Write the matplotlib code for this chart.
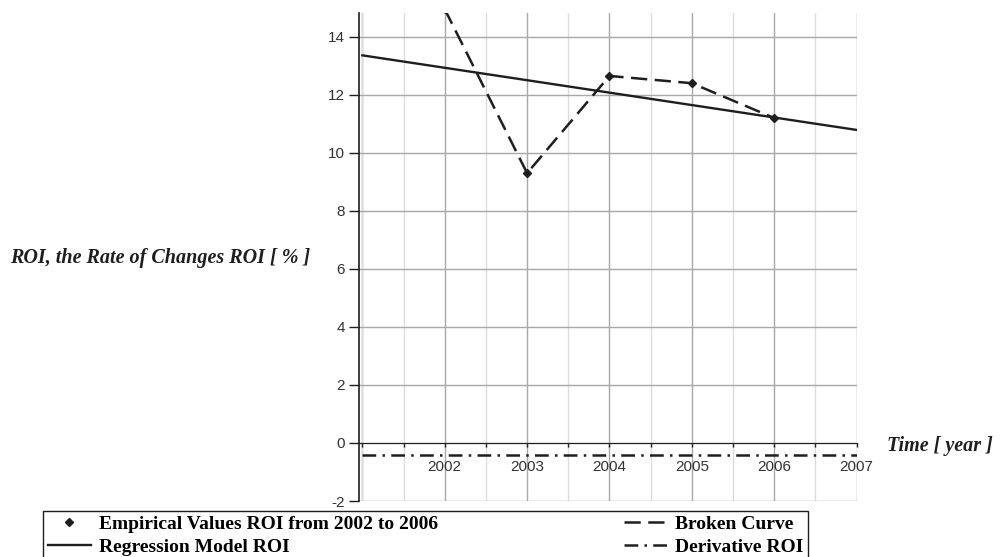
import numpy as np
import matplotlib.pyplot as plt
from matplotlib.ticker import MultipleLocator

# Datos
years = [2002, 2003, 2004, 2005, 2006]
roi = [14.95, 9.3, 12.65, 12.4, 11.2]          # valores empiricos ROI [%]
reg_years = [2001, 2007]
reg_roi = [13.36, 10.79]                        # modelo de regresion
deriv_roi = [-0.43, -0.43]                      # derivada del modelo
xticks = [2002, 2003, 2004, 2005, 2006, 2007]
yticks = [-2, 0, 2, 4, 6, 8, 10, 12, 14]

dark = '#1e1e1e'
serif = 'Liberation Serif'
plt.rcParams['axes.unicode_minus'] = False

fig = plt.figure(figsize=(10.03, 5.57), dpi=100)
ax = fig.add_axes([0.358, 0.1005, 0.496, 0.8767])

# Curvas
emp, = ax.plot(years, roi, linestyle='none', marker='D', markersize=4.5,
               color=dark, clip_on=True)
broken, = ax.plot(years, roi, linestyle=(0, (6.5, 3)), linewidth=1.8, color=dark)
reg, = ax.plot(reg_years, reg_roi, '-', linewidth=1.7, color=dark)
deriv, = ax.plot(reg_years, deriv_roi, linestyle=(0, (5.5, 2.5, 1, 2.5)),
                 linewidth=1.8, color=dark)

# Ejes
ax.set_xlim(2000.96, 2007)
ax.set_ylim(-2, 14.83)
ax.set_xticks(xticks)
ax.xaxis.set_minor_locator(MultipleLocator(0.5))
ax.set_yticks(yticks)
ax.grid(which='major', color='#a8a8a8', linewidth=1.0)
ax.grid(which='minor', axis='x', color='#dcdcdc', linewidth=1.0)
ax.axvline(2001, color='#a8a8a8', linewidth=1.0, zorder=0.5)
ax.set_axisbelow(True)

for s in ['top', 'right']:
    ax.spines[s].set_visible(False)
ax.spines['bottom'].set_position(('data', 0))
ax.spines['bottom'].set_color(dark)
ax.spines['left'].set_color(dark)
ax.spines['left'].set_linewidth(1.2)

ax.tick_params(axis='x', which='both', direction='out', length=3, width=1,
               labelsize=11, pad=9, colors=dark)
ax.tick_params(axis='y', direction='out', length=7, width=1, labelsize=11,
               pad=3, colors=dark)
for lab in ax.get_xticklabels() + ax.get_yticklabels():
    lab.set_family('Liberation Sans')
    lab.set_color('#333333')

# Etiquetas
fig.text(0.01, 0.537, 'ROI, the Rate of Changes ROI [ % ]', family=serif,
         style='italic', weight='bold', fontsize=14.5, color=dark, va='center')
fig.text(0.884, 0.2, 'Time [ year ]', family=serif, style='italic',
         weight='bold', fontsize=14.5, color=dark, va='center')

# Leyenda
leg = fig.legend([emp, reg, broken, deriv],
                 ['Empirical Values ROI from 2002 to 2006', 'Regression Model ROI',
                  'Broken Curve', 'Derivative ROI'],
                 ncol=2, loc='upper left', bbox_to_anchor=(0.043, 0.083),
                 prop={'family': serif, 'weight': 'bold', 'size': 14},
                 frameon=True, fancybox=False, edgecolor=dark, framealpha=1,
                 handlelength=2.2, handletextpad=0.4, columnspacing=9.6,
                 labelspacing=0.28, borderpad=0.25, borderaxespad=0)
leg.get_frame().set_linewidth(1.0)

fig.savefig('out.png', dpi=100)
